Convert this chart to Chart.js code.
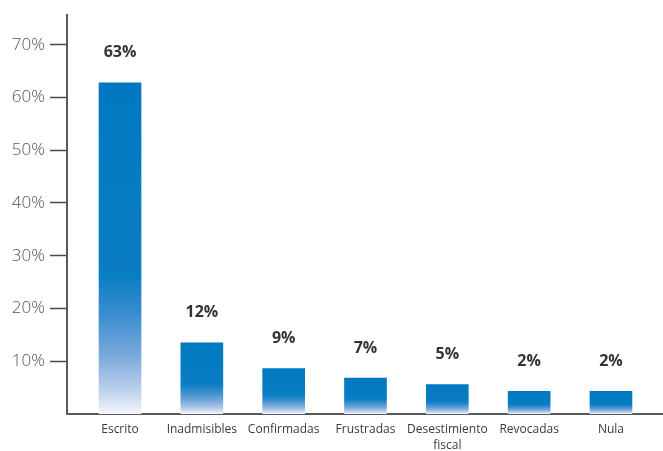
<!DOCTYPE html>
<html>
<head>
<meta charset="utf-8">
<script src="https://cdn.jsdelivr.net/npm/chart.js@4/dist/chart.umd.min.js"></script>
<style>
  html, body { margin: 0; padding: 0; background: #ffffff; }
  #wrap { width: 663px; height: 451px; }
</style>
</head>
<body>
<div id="wrap"><canvas id="c" width="663" height="451"></canvas></div>
<script>
// ---- data ----
const categories = ["Escrito", "Inadmisibles", "Confirmadas", "Frustradas", ["Desestimiento", "fiscal"], "Revocadas", "Nula"];
const barHeights = [62.8, 13.5, 8.6, 6.8, 5.6, 4.3, 4.3];       // drawn bar heights (%)
const valueLabels = ["63%", "12%", "9%", "7%", "5%", "2%", "2%"];  // printed labels
const yTickValues = [10, 20, 30, 40, 50, 60, 70];

const points = barHeights.map((v, i) => ({ x: i, y: v }));

function barGradient(ctx) {
  const chart = ctx.chart;
  const y = chart.scales.y;
  if (!chart.chartArea || !y || ctx.parsed === undefined) return '#0079C1';
  const top = y.getPixelForValue(ctx.parsed.y);
  const bottom = y.getPixelForValue(0);
  const g = chart.ctx.createLinearGradient(0, top, 0, bottom);
  g.addColorStop(0, '#0079C1');
  g.addColorStop(0.58, '#0a7dc3');
  g.addColorStop(0.70, '#3a8fcf');
  g.addColorStop(0.82, '#78a8da');
  g.addColorStop(0.92, '#b6cceb');
  g.addColorStop(1, '#f5f7fc');
  return g;
}

const valueLabelPlugin = {
  id: 'valueLabels',
  afterDatasetsDraw(chart) {
    const c = chart.ctx;
    const meta = chart.getDatasetMeta(0);
    c.save();
    c.font = 'bold 16px "Open Sans", sans-serif';
    c.fillStyle = '#333333';
    c.textAlign = 'center';
    c.textBaseline = 'middle';
    meta.data.forEach((el, i) => {
      c.fillText(valueLabels[i], el.x, el.y - 30);
    });
    c.restore();
  }
};

new Chart(document.getElementById('c'), {
  type: 'bar',
  data: {
    datasets: [{
      data: points,
      backgroundColor: barGradient,
      borderWidth: 0,
      barThickness: 42
    }]
  },
  options: {
    responsive: false,
    animation: false,
    devicePixelRatio: 1,
    layout: { padding: { top: 11, right: 0, left: 0, bottom: 0 } },
    plugins: { legend: { display: false }, tooltip: { enabled: false } },
    scales: {
      x: {
        type: 'linear',
        offset: false,
        min: -0.648,
        max: 6.636,
        afterBuildTicks(axis) { axis.ticks = categories.map((_, i) => ({ value: i })); },
        afterFit(axis) { axis.height = 37; },
        grid: { display: true, drawOnChartArea: false, drawTicks: false },
        border: { display: true, color: '#5a5a5a', width: 2 },
        ticks: {
          autoSkip: false,
          maxRotation: 0,
          padding: 7,
          color: '#3a3a3a',
          font: { family: '"Open Sans", sans-serif', size: 12, lineHeight: 1.35 },
          callback: (v) => categories[v]
        }
      },
      y: {
        min: 0,
        max: 75.6,
        afterBuildTicks(axis) { axis.ticks = yTickValues.map(v => ({ value: v })); },
        afterFit(axis) { axis.width = 67; },
        grid: { drawOnChartArea: false, drawTicks: true, tickLength: 17, tickColor: '#4a4a4a', tickWidth: 1.5 },
        border: { display: true, color: '#5a5a5a', width: 2 },
        ticks: {
          padding: 5,
          color: '#555555',
          font: { family: '"Open Sans", sans-serif', size: 17, weight: '300' },
          callback: (v) => v + '%'
        }
      }
    }
  },
  plugins: [valueLabelPlugin]
});
</script>
</body>
</html>
